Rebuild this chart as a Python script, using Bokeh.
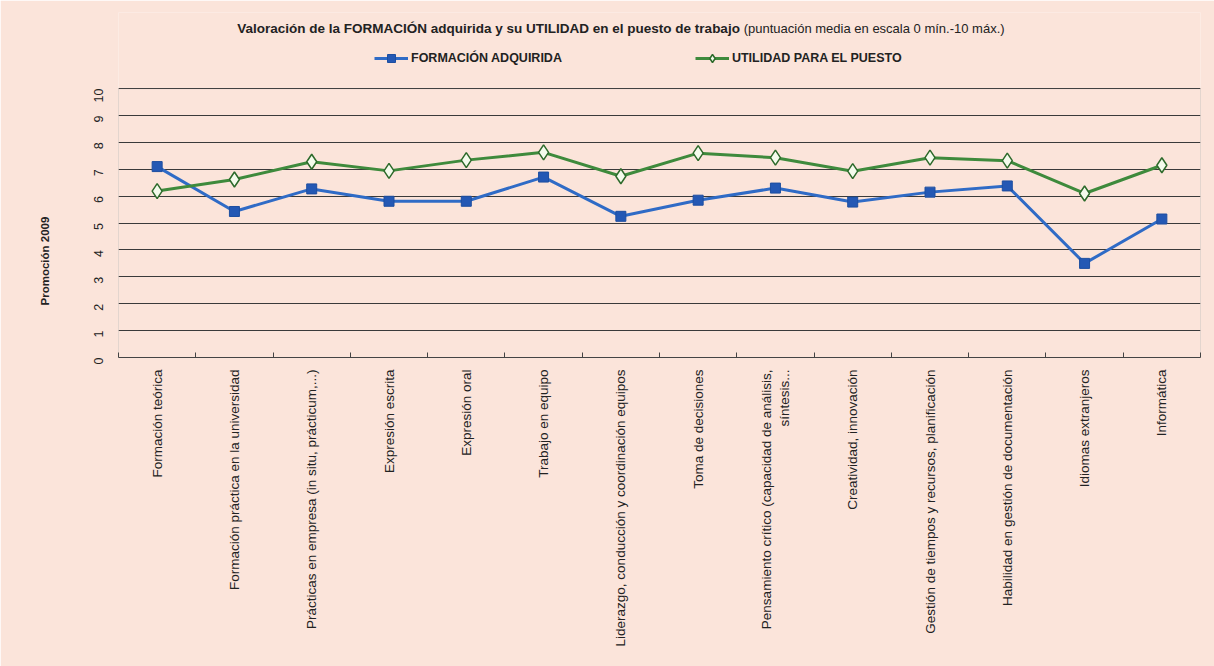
import math
from bokeh.plotting import figure
from bokeh.models import (Range1d, LinearAxis, FixedTicker, Label, Legend, LegendItem,
                          BoxAnnotation, Title)
from bokeh.embed import file_html
from bokeh.resources import INLINE

categories = [
    "Formación teórica",
    "Formación práctica en la universidad",
    "Prácticas en empresa (in situ, prácticum,...)",
    "Expresión escrita",
    "Expresión oral",
    "Trabajo en equipo",
    "Liderazgo, conducción y coordinación equipos",
    "Toma de decisiones",
    "Pensamiento crítico (capacidad de análisis,\nsíntesis...",
    "Creatividad, innovación",
    "Gestión de tiempos y recursos, planificación",
    "Habilidad en gestión de documentación",
    "Idiomas extranjeros",
    "Informática",
]
formacion = [7.1, 5.43, 6.27, 5.81, 5.81, 6.71, 5.25, 5.85, 6.3, 5.78, 6.15, 6.38, 3.5, 5.15]
utilidad = [6.19, 6.62, 7.28, 6.94, 7.34, 7.63, 6.74, 7.6, 7.43, 6.93, 7.43, 7.32, 6.1, 7.15]
y_ticks = list(range(0, 11))
Y_MAX = 10

n = len(categories)
xpos = [i + 0.5 for i in range(n)]          # category centres
boundaries = list(range(0, n + 1))           # category boundaries

BG = "#fbe4da"
FONT = "Liberation Sans"
DARK = "#3a3a3a"
TXT = "#222222"

# The frame extends up to hold the title and legend (same background as the chart);
# the plot-area border is drawn around 0..Y_MAX only.
p = figure(width=1214, height=666,
           x_range=Range1d(0, n), y_range=Range1d(0, 12.83),
           output_backend="svg", toolbar_location=None,
           x_axis_location=None,
           background_fill_color=BG, border_fill_color=BG,
           min_border_left=117, min_border_right=14,
           min_border_top=12, min_border_bottom=309,
           styles={"outline": "1px solid #6a6a6a", "outline-offset": "-4px"})
p.outline_line_color = None

p.add_layout(BoxAnnotation(left=0, right=n, bottom=0, top=Y_MAX,
                           fill_alpha=0, line_color="#555555", line_width=1,
                           level="underlay"))

# inward tick marks at category boundaries (Excel style)
tick_axis = LinearAxis(ticker=FixedTicker(ticks=boundaries, minor_ticks=[]),
                       major_tick_in=5, major_tick_out=0,
                       minor_tick_line_color=None,
                       major_label_text_font_size="0px", major_label_standoff=0,
                       axis_line_color="#444444", major_tick_line_color="#444444")
p.add_layout(tick_axis, "below")

cat_axis = LinearAxis(ticker=FixedTicker(ticks=xpos, minor_ticks=[]),
                      major_label_overrides={x: c for x, c in zip(xpos, categories)},
                      major_label_orientation=math.pi / 2,
                      axis_line_color=None, major_tick_line_color=None,
                      minor_tick_line_color=None,
                      major_label_standoff=6,
                      major_label_text_font=FONT,
                      major_label_text_font_size="13.5px",
                      major_label_text_color=TXT)
p.add_layout(cat_axis, "below")

p.yaxis.ticker = FixedTicker(ticks=y_ticks, minor_ticks=[])
p.yaxis.major_tick_line_color = None
p.yaxis.minor_tick_line_color = None
p.yaxis.axis_line_color = None
p.yaxis.major_label_orientation = math.pi / 2
p.yaxis.major_label_standoff = 14
p.yaxis.major_label_text_font = FONT
p.yaxis.major_label_text_font_size = "12.5px"
p.yaxis.major_label_text_color = TXT

side_title = Title(text="Promoción 2009", align="left", offset=52,
                   standoff=72, text_font=FONT, text_font_style="bold",
                   text_font_size="11.5px", text_color=TXT)
p.add_layout(side_title, "left")

p.ygrid.ticker = FixedTicker(ticks=y_ticks, minor_ticks=[])
p.ygrid.grid_line_color = DARK
p.ygrid.grid_line_width = 1
p.xgrid.grid_line_color = None

r1 = p.line(xpos, formacion, line_color="#2f6bc6", line_width=3)
r1m = p.scatter(xpos, formacion, marker="square", size=10,
                fill_color="#2458b4", line_color="#1d4ea0", line_width=1)
r2 = p.line(xpos, utilidad, line_color="#3e8a3c", line_width=3)
r2m = p.scatter(xpos, utilidad, marker="diamond", size=15,
                fill_color="#f4fbec", line_color="#2d6a2b", line_width=1.5)

legend = Legend(items=[LegendItem(label="FORMACIÓN ADQUIRIDA", renderers=[r1, r1m]),
                       LegendItem(label="UTILIDAD PARA EL PUESTO", renderers=[r2, r2m])],
                orientation="horizontal", location=(256, 289),
                background_fill_alpha=0, border_line_color=None,
                label_text_font=FONT, label_text_font_style="bold",
                label_text_font_size="12.5px", label_text_color=TXT,
                glyph_width=34, glyph_height=20, label_standoff=3,
                label_width=150, spacing=133, padding=0, margin=0)
p.add_layout(legend, "center")

title_main = Label(x=8.04, y=12.24,
                   text="Valoración de la FORMACIÓN adquirida y su UTILIDAD en el puesto de trabajo",
                   text_align="right", text_baseline="middle",
                   text_font=FONT, text_font_style="bold", text_font_size="13.5px",
                   text_color=TXT)
title_sub = Label(x=8.09, y=12.24,
                  text="(puntuación media en escala 0 mín.-10 máx.)",
                  text_align="left", text_baseline="middle",
                  text_font=FONT, text_font_size="13px", text_color=TXT)
p.add_layout(title_main)
p.add_layout(title_sub)

open("out.html", "w").write(file_html(p, INLINE))
